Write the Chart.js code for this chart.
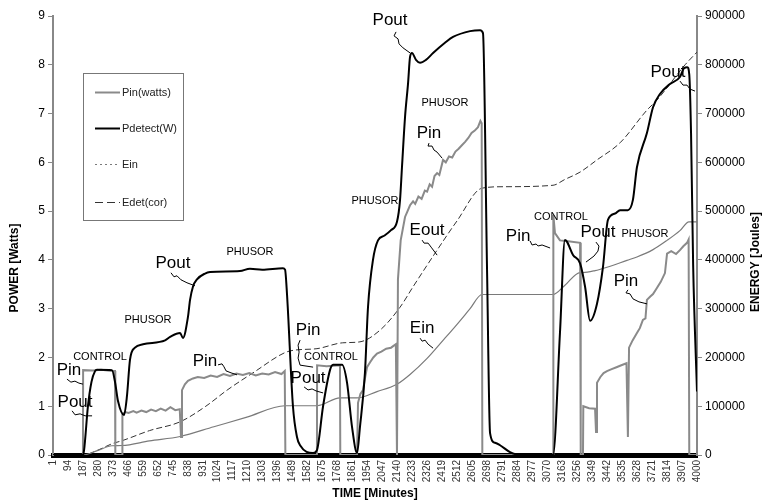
<!DOCTYPE html>
<html>
<head>
<meta charset="utf-8">
<script src="https://cdn.jsdelivr.net/npm/chart.js@4.4.1/dist/chart.umd.min.js"></script>
<style>
html, body { margin: 0; padding: 0; background: #fff; }
</style>
</head>
<body>
<canvas id="chart" width="768" height="502"></canvas>
<script>
// tick labels on the time axis (minutes)
const timeTicks = [1, 94, 187, 280, 373, 466, 559, 652, 745, 838, 931, 1024, 1117, 1210, 1303, 1396,
  1489, 1582, 1675, 1768, 1861, 1954, 2047, 2140, 2233, 2326, 2419, 2512, 2605, 2698, 2791, 2884,
  2977, 3070, 3163, 3256, 3349, 3442, 3535, 3628, 3721, 3814, 3907, 4000]

// Pin(watts)
const pinTime = [1, 187, 188, 250, 300, 367, 386, 388, 430, 432, 450, 470, 500, 520, 550, 580, 610, 640, 670, 700, 730, 760, 788,
  796, 802, 820, 839, 870, 900, 940, 980, 1020, 1060, 1100, 1140, 1180, 1220, 1260, 1300, 1340, 1380, 1420, 1440, 1444,
  1640, 1641, 1700, 1783, 1785, 1889, 1895, 1910, 1926, 1940, 1951, 1970, 1990, 2013, 2040, 2070, 2100, 2130, 2137,
  2143, 2160, 2187, 2200, 2218, 2237, 2250, 2270, 2290, 2310, 2324, 2340, 2355, 2370, 2386, 2400, 2423, 2440, 2460, 2480,
  2500, 2520, 2540, 2560, 2580, 2600, 2620, 2640, 2655, 2663, 2667,
  3106, 3108, 3118, 3149, 3200, 3274, 3278, 3292, 3294, 3330, 3367, 3373, 3379, 3400, 3420, 3441, 3470, 3500, 3530, 3562, 3571,
  3578, 3600, 3627, 3645, 3664, 3680, 3689, 3710, 3727, 3750, 3775, 3801, 3814, 3840, 3870, 3894, 3915, 3938, 3948, 3952, 4000]
const pinWatts = [0, 0, 1.74, 1.73, 1.75, 1.72, 1.72, 0, 0, 0.84, 0.88, 0.86, 0.9, 0.87, 0.91, 0.88, 0.93, 0.9, 0.95, 0.91, 0.98, 0.92, 0.94,
  0.37, 1.33, 1.45, 1.52, 1.57, 1.6, 1.58, 1.63, 1.6, 1.66, 1.62, 1.67, 1.64, 1.68, 1.63, 1.67, 1.65, 1.7, 1.66, 1.72, 0,
  0, 1.84, 1.82, 1.84, 0, 0, 1.07, 1.25, 1.33, 1.6, 1.8, 1.9, 2.0, 2.08, 2.12, 2.18, 2.2, 2.27, 0,
  3.6, 4.4, 4.88, 4.98, 5.12, 5.2, 5.15, 5.3, 5.25, 5.42, 5.4, 5.55, 5.5, 5.72, 5.78, 5.74, 6.05, 6.0, 6.12, 6.1,
  6.22, 6.28, 6.35, 6.42, 6.5, 6.6, 6.65, 6.72, 6.85, 6.8, 0,
  0, 4.92, 4.55, 4.4, 4.38, 4.35, 0, 0, 1.0, 0.96, 0.95, 0.47, 1.48, 1.6, 1.68, 1.72, 1.76, 1.8, 1.84, 1.88, 0.37,
  2.2, 2.35, 2.5, 2.6, 2.77, 2.8, 3.18, 3.25, 3.3, 3.42, 3.55, 3.73, 4.13, 4.18, 4.12, 4.2, 4.28, 4.35, 4.42, 0, 0]

// Pdetect(W)
const pdetTime = [1, 187, 194, 218, 240, 262, 274, 367, 386, 405, 442, 460, 479, 510, 560, 697, 728, 790, 808, 839, 852, 870,
  895, 945, 976, 1162, 1224, 1300, 1429, 1442, 1454, 1491, 1516, 1535, 1616, 1640, 1678, 1721, 1740, 1796, 1827, 1858,
  1889, 1907, 1938, 1957, 1988, 2019, 2060, 2100, 2137, 2156, 2168, 2187, 2206, 2218, 2230, 2255, 2280, 2317, 2361,
  2435, 2485, 2591, 2653, 2671, 2696, 2715, 2746, 2777, 2839, 2901, 3106, 3149, 3180, 3193, 3230, 3274, 3305, 3336,
  3379, 3416, 3447, 3491, 3522, 3571, 3602, 3627, 3689, 3727, 3770, 3830, 3894, 3919, 3940, 3952, 3963, 3976, 4000]
const pdetWatts = [0, 0, 0.1, 1.0, 1.5, 1.72, 1.75, 1.74, 1.5, 1.1, 0.82, 1.2, 1.95, 2.2, 2.27, 2.35, 2.42, 2.5, 2.4, 2.83, 3.18, 3.45,
  3.6, 3.72, 3.75, 3.77, 3.82, 3.8, 3.83, 3.8, 3.3, 1.0, 0.37, 0.2, 0.04, 0.1, 1.0, 1.74, 1.85, 1.85, 1.48, 0.57,
  0.04, 0.57, 1.68, 3.03, 4.0, 4.4, 4.5, 4.61, 4.78, 5.23, 5.9, 6.93, 7.63, 8.16, 8.24, 8.1, 8.04, 8.1, 8.24,
  8.45, 8.57, 8.69, 8.71, 8.65, 3.85, 0.45, 0.25, 0.2, 0.06, 0, 0, 2.5, 4.41, 4.37, 4.1, 3.93, 3.45, 2.75,
  3.1, 3.85, 4.82, 4.95, 5.02, 5.02, 5.23, 5.9, 6.6, 7.13, 7.4, 7.6, 7.75, 7.93, 7.95, 7.8, 6.6, 3.9, 1.3]

// Ein (Joules)
const einTime = [1, 187, 280, 367, 430, 600, 790, 1000, 1200, 1442, 1640, 1783, 1889, 2013, 2137, 2218, 2324, 2423,
  2510, 2591, 2665, 3106, 3180, 3274, 3292, 3367, 3441, 3565, 3627, 3727, 3814, 3894, 3950, 4000]
const einJoules = [0, 0, 9500, 19000, 19500, 29000, 38000, 58000, 77000, 101000, 101000, 117000, 117000, 130000, 145000,
  165000, 198000, 235000, 268000, 300000, 329000, 329000, 348000, 374000, 374000, 378000, 385000, 399000, 406000,
  421000, 440000, 460000, 478000, 478000]

// Edet(cor) (Joules)
const edetTime = [1, 187, 280, 367, 436, 600, 790, 950, 1082, 1250, 1442, 1500, 1640, 1800, 1907, 2032, 2156, 2237,
  2386, 2510, 2665, 2800, 3106, 3180, 3274, 3379, 3522, 3689, 3752, 3926, 4000]
const edetJoules = [0, 0, 10000, 23000, 30000, 50000, 68000, 100000, 133000, 170000, 210000, 215000, 218000, 230000,
  232000, 256000, 303000, 345000, 420000, 480000, 547000, 550000, 553000, 565000, 580000, 605000, 640000, 707000,
  728000, 800000, 826000]

const pts = (xs, ys) => xs.map((v, i) => ({x: v, y: ys[i]}))

// text notes on the plot, placed in data units (minutes, watts); lead = squiggle offsets in px
const notes = [
  {t: 'Pin', x: 100, y: 1.74, lead: [[-2, 9], [2, 12], [6, 11], [10, 13], [14, 14]]},
  {t: 'Pout', x: 138, y: 1.09, lead: [[-3, 9], [0, 13], [5, 12], [10, 14], [17, 14]]},
  {t: 'CONTROL', x: 293, y: 2.01, small: true},
  {t: 'PHUSOR', x: 591, y: 2.77, small: true},
  {t: 'Pout', x: 746, y: 3.92, lead: [[-2, 9], [1, 13], [4, 12], [8, 16], [14, 19], [22, 22]]},
  {t: 'PHUSOR', x: 1224, y: 4.16, small: true},
  {t: 'Pin', x: 945, y: 1.93, lead: [[13, 4], [17, 3], [19, 6], [21, 10], [26, 12], [32, 14]]},
  {t: 'Pin', x: 1585, y: 2.56, lead: [[-8, 10], [-10, 15], [-9, 22], [-10, 28], [-8, 35], [5, 37]]},
  {t: 'CONTROL', x: 1727, y: 2.01, small: true},
  {t: 'Pout', x: 1585, y: 1.58, lead: [[-4, 9], [0, 12], [4, 11], [8, 13], [15, 15]]},
  {t: 'Pout', x: 2094, y: 8.92, lead: [[6, 12], [4, 16], [8, 19], [9, 24], [13, 28], [20, 33]]},
  {t: 'PHUSOR', x: 2435, y: 7.22, small: true},
  {t: 'Pin', x: 2336, y: 6.6, lead: [[0, 10], [-1, 13], [3, 13], [5, 17], [8, 19], [13, 25]]},
  {t: 'PHUSOR', x: 2000, y: 5.21, small: true},
  {t: 'Eout', x: 2324, y: 4.61, lead: [[-5, 10], [-3, 13], [1, 13], [4, 17], [10, 25]]},
  {t: 'Ein', x: 2293, y: 2.6, lead: [[-2, 10], [0, 13], [3, 12], [6, 16], [11, 20]]},
  {t: 'Pin', x: 2889, y: 4.49, lead: [[12, 5], [14, 9], [18, 8], [20, 10], [24, 9], [32, 12]]},
  {t: 'CONTROL', x: 3155, y: 4.88, small: true},
  {t: 'Pout', x: 3385, y: 4.57, lead: [[-2, 10], [1, 14], [0, 19], [-4, 24], [-12, 30]]},
  {t: 'PHUSOR', x: 3677, y: 4.53, small: true},
  {t: 'Pin', x: 3559, y: 3.57, lead: [[2, 9], [0, 12], [4, 13], [7, 18], [13, 21], [21, 23]]},
  {t: 'Pout', x: 3820, y: 7.85, lead: [[12, 9], [15, 13], [19, 13], [22, 17], [27, 19]]}
]

const FONT = '"Liberation Sans", Arial, sans-serif'
Chart.defaults.font.family = FONT

const notesPlugin = {
  id: 'notes',
  afterDraw(chart) {
    const {ctx, chartArea, scales} = chart
    const x = scales.x, y = scales.y
    ctx.save()
    ctx.fillStyle = '#000'
    ctx.strokeStyle = '#000'
    ctx.lineWidth = 1
    ctx.textAlign = 'center'
    ctx.textBaseline = 'middle'
    notes.forEach(n => {
      const px = x.getPixelForValue(n.x), py = y.getPixelForValue(n.y)
      ctx.font = n.small ? '11px ' + FONT : '17px "Liberation Sans Narrow", ' + FONT
      ctx.fillText(n.t, px, py)
      if (n.lead) {
        ctx.beginPath()
        n.lead.forEach(([dx, dy], i) => i ? ctx.lineTo(px + dx, py + dy) : ctx.moveTo(px + dx, py + dy))
        ctx.stroke()
      }
    })

    // legend box
    const bx = chartArea.left + 30, by = chartArea.top + 57
    ctx.strokeStyle = '#777'
    ctx.strokeRect(bx + 0.5, by + 0.5, 100, 147)
    const rows = [19, 55, 91, 129]
    ctx.textAlign = 'left'
    ctx.font = '11px ' + FONT
    chart.data.datasets.forEach((ds, i) => {
      const ly = by + rows[i] + 0.5
      ctx.beginPath()
      ctx.strokeStyle = ds.borderColor
      ctx.lineWidth = ds.legendWidth
      ctx.setLineDash(ds.legendDash)
      ctx.moveTo(bx + 12, ly)
      ctx.lineTo(bx + 37, ly)
      ctx.stroke()
      ctx.setLineDash([])
      ctx.fillStyle = '#222'
      ctx.fillText(ds.label, bx + 39, ly)
    })

    // axis titles
    ctx.fillStyle = '#000'
    ctx.font = 'bold 12px ' + FONT
    ctx.textAlign = 'center'
    ctx.save()
    ctx.translate(15, 268)
    ctx.rotate(-Math.PI / 2)
    ctx.fillText('POWER [Watts]', 0, 0)
    ctx.restore()
    ctx.save()
    ctx.translate(756, 262)
    ctx.rotate(-Math.PI / 2)
    ctx.fillText('ENERGY [Joules]', 0, 0)
    ctx.restore()
    ctx.fillText('TIME [Minutes]', (chartArea.left + chartArea.right) / 2, 494)
    ctx.restore()
  }
}

const axisGrid = {drawOnChartArea: false, drawTicks: true, tickLength: 5, color: '#888'}
const plain = v => String(v)

new Chart(document.getElementById('chart'), {
  type: 'line',
  data: {
    datasets: [
      {label: 'Pin(watts)', data: pts(pinTime, pinWatts), yAxisID: 'y', borderColor: '#8a8a8a', borderWidth: 2,
        pointRadius: 0, tension: 0, order: 1, legendDash: [], legendWidth: 2},
      {label: 'Pdetect(W)', data: pts(pdetTime, pdetWatts), yAxisID: 'y', borderColor: '#000', borderWidth: 2,
        pointRadius: 0, cubicInterpolationMode: 'monotone', order: 0, legendDash: [], legendWidth: 2},
      {label: 'Ein', data: pts(einTime, einJoules), yAxisID: 'y2', borderColor: '#7a7a7a', borderWidth: 1.2,
        pointRadius: 0, cubicInterpolationMode: 'monotone', order: 2, legendDash: [2, 3], legendWidth: 1},
      {label: 'Edet(cor)', data: pts(edetTime, edetJoules), yAxisID: 'y2', borderColor: '#333', borderWidth: 1,
        borderDash: [6, 3], pointRadius: 0, cubicInterpolationMode: 'monotone', order: 3, legendDash: [8, 4], legendWidth: 1}
    ]
  },
  options: {
    responsive: false,
    animation: false,
    devicePixelRatio: 1,
    layout: {padding: {top: 16, left: 0, right: 0, bottom: 0}},
    plugins: {legend: {display: false}, tooltip: {enabled: false}},
    scales: {
      x: {
        type: 'linear', min: 1, max: 4000,
        afterBuildTicks: s => { s.ticks = timeTicks.map(v => ({value: v})) },
        afterFit: s => { s.height = 47 },
        ticks: {autoSkip: false, minRotation: 90, maxRotation: 90, font: {size: 10}, color: '#333', padding: 2, callback: plain},
        grid: {drawOnChartArea: false, drawTicks: true, tickLength: 3, color: '#000'},
        border: {color: '#000', width: 5}
      },
      y: {
        position: 'left', min: 0, max: 9,
        afterFit: s => { s.width = 53 },
        ticks: {stepSize: 1, font: {size: 12}, color: '#000', padding: 3, callback: plain},
        grid: axisGrid,
        border: {color: '#888', width: 2}
      },
      y2: {
        position: 'right', min: 0, max: 900000,
        afterFit: s => { s.width = 71 },
        ticks: {stepSize: 100000, font: {size: 12}, color: '#000', padding: 3, callback: plain},
        grid: axisGrid,
        border: {color: '#888', width: 2}
      }
    }
  },
  plugins: [notesPlugin]
})
</script>
</body>
</html>
